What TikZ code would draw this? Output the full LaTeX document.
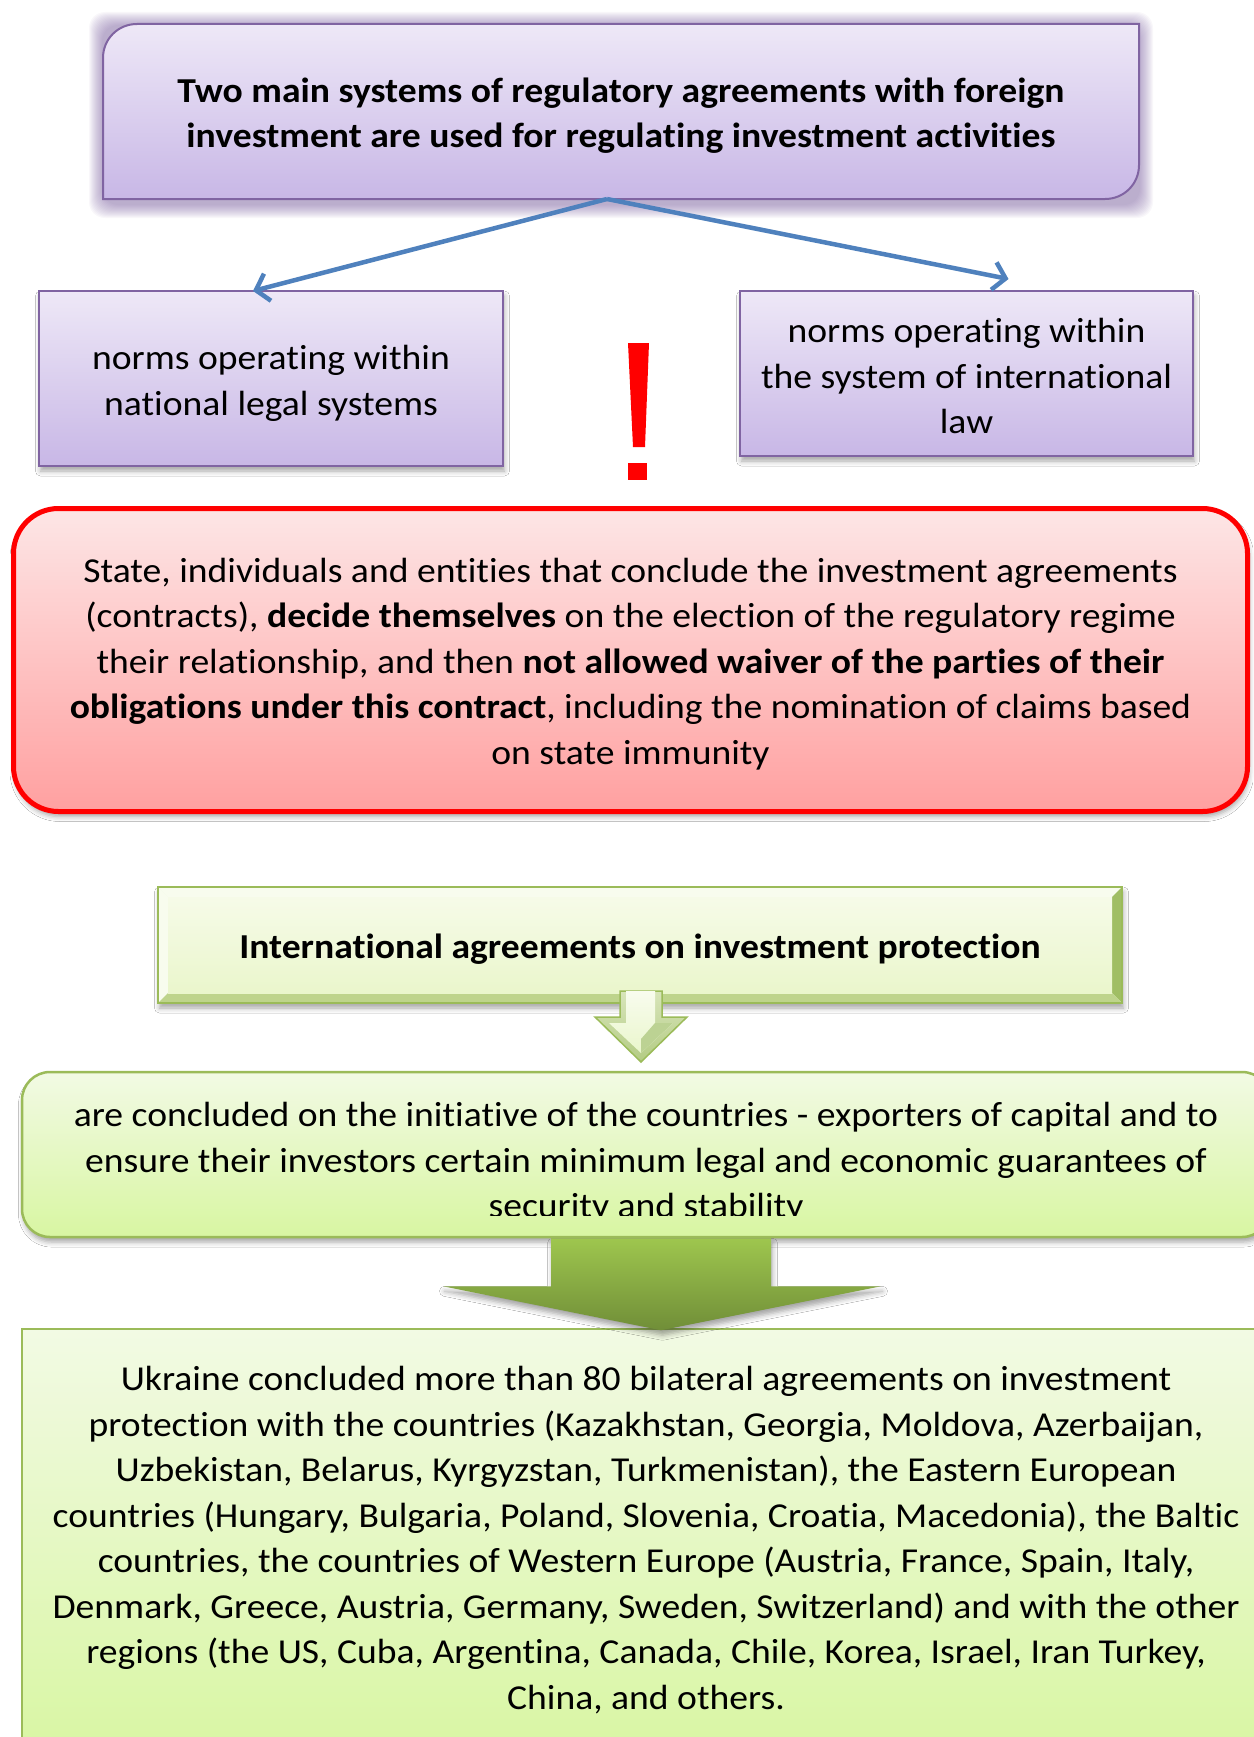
\documentclass[tikz,border=0pt]{standalone}
\usepackage{fontspec}
\setmainfont{Carlito}[Ligatures=NoCommon, FakeStretch=1.075]
\usetikzlibrary{calc,arrows.meta,shadows.blur}

\definecolor{lavtop}{RGB}{238,232,247}
\definecolor{lavbot}{RGB}{200,183,230}
\definecolor{lavedge}{RGB}{128,100,162}
\definecolor{glowc}{RGB}{120,90,160}
\definecolor{linkblue}{RGB}{79,129,189}
\definecolor{redtop}{RGB}{253,230,230}
\definecolor{redbot}{RGB}{255,160,160}
\definecolor{alarm}{RGB}{255,0,0}
\definecolor{grtop}{RGB}{242,250,228}
\definecolor{grbot}{RGB}{216,246,162}
\definecolor{gredge}{RGB}{155,187,89}
\definecolor{bevlight}{RGB}{248,252,238}
\definecolor{bevmid}{RGB}{190,212,140}
\definecolor{bevdark}{RGB}{160,190,100}
\definecolor{paneltop}{RGB}{246,251,232}
\definecolor{panelbot}{RGB}{234,246,204}
\definecolor{arrtop}{RGB}{158,198,78}
\definecolor{arrbot}{RGB}{112,142,56}

\tikzset{
  body/.style={font=\fontsize{35}{45.5}\selectfont, align=center, inner sep=0pt},
  bodyb/.style={body, font=\fontsize{35}{45.5}\selectfont\bfseries},
  dropsh/.style={blur shadow={shadow xshift=1.5pt, shadow yshift=-5pt,
      shadow blur radius=5pt, shadow opacity=35}},
  lavbox/.style={draw=lavedge, line width=2pt, top color=lavtop, bottom color=lavbot},
  link/.style={draw=linkblue, line width=4.5pt,
      -{Straight Barb[length=12pt,width=28pt,line width=4.5pt]}},
  greenbox/.style={draw=gredge, line width=2.5pt, top color=grtop, bottom color=grbot},
  frame/.style={inner sep=0pt, outer sep=0pt},
}

\begin{document}
\begin{tikzpicture}[x=1pt,y=-1pt]
\useasboundingbox (0,0) rectangle (1253,1737);
\fill[white] (0,0) rectangle (1253,1737);

% ---- heading box -------------------------------------------------------
\node[frame, minimum width=1036pt, minimum height=175pt] (top) at (621,111.5) {};
\foreach \g in {1,...,14}
  \fill[glowc, opacity=0.045, rounded corners=16pt]
    ($(top.north west)+(-\g,-\g+2)$) rectangle ($(top.south east)+(\g,\g+5)$);
\path[lavbox] (top.south west) -- ($(top.north west)+(0,34)$)
    .. controls ($(top.north west)+(0,15)$) and ($(top.north west)+(15,0)$)
    .. ($(top.north west)+(34,0)$)
    -- (top.north east) -- ($(top.south east)+(0,-34)$)
    .. controls ($(top.south east)+(0,-15)$) and ($(top.south east)+(-15,0)$)
    .. ($(top.south east)+(-34,0)$) -- cycle;
\node[bodyb] (toptxt) at ([yshift=-4pt]top.center)
  {Two main systems of regulatory agreements with foreign\\
   investment are used for regulating investment activities};

% ---- two kinds of norms ------------------------------------------------
\node[lavbox, frame, dropsh, minimum width=464pt, minimum height=175pt] (lbox) at (271,378.5) {};
\node[body] (ltxt) at ([yshift=-5pt]lbox.center)
  {norms operating within\\national legal systems};
\node[lavbox, frame, dropsh, minimum width=453pt, minimum height=165pt] (rbox) at (966.5,373.5) {};
\node[body] (rtxt) at ([yshift=-2.5pt]rbox.center)
  {norms operating within\\the system of international\\law};

\draw[link] ([xshift=-14pt]top.south) -- ([xshift=-18pt]lbox.north);
\draw[link] ([xshift=-14pt]top.south) -- ([xshift=42pt,yshift=12pt]rbox.north);

% exclamation mark
\fill[alarm] (628,343) -- (649,343) -- (645,447) -- (633,447) -- cycle;
\fill[alarm] (628,463) rectangle (647,480);

% ---- parties' choice ---------------------------------------------------
\node[frame, dropsh, draw=alarm, line width=5pt, rounded corners=45pt,
      top color=redtop, bottom color=redbot,
      minimum width=1234pt, minimum height=303pt] (warn) at (630.5,660) {};
\node[body] (warntxt) at ([yshift=-4pt]warn.center)
  {State, individuals and entities that conclude the investment agreements\\
   (contracts), \textbf{decide themselves} on the election of the regulatory regime\\
   their relationship, and then \textbf{not allowed waiver of the parties of their}\\
   \textbf{obligations under this contract}, including the nomination of claims based\\
   on state immunity};

% ---- international agreements (bevelled panel) -------------------------
\node[frame, dropsh, fill=grtop, minimum width=964pt, minimum height=116pt] (hdr) at (640,945) {};
\fill[bevlight] (hdr.north west) -- (hdr.north east) -- ($(hdr.north east)+(-10,10)$)
    -- ($(hdr.north west)+(10,10)$) -- cycle;
\fill[bevlight] (hdr.north west) -- ($(hdr.north west)+(10,10)$)
    -- ($(hdr.south west)+(10,-10)$) -- (hdr.south west) -- cycle;
\fill[bevdark] (hdr.north east) -- ($(hdr.north east)+(-10,10)$)
    -- ($(hdr.south east)+(-10,-10)$) -- (hdr.south east) -- cycle;
\fill[bevmid] (hdr.south west) -- ($(hdr.south west)+(10,-10)$)
    -- ($(hdr.south east)+(-10,-10)$) -- (hdr.south east) -- cycle;
\path[top color=paneltop, bottom color=panelbot]
    ($(hdr.north west)+(10,10)$) rectangle ($(hdr.south east)+(-10,-10)$);
\draw[gredge, line width=2pt] (hdr.north west) rectangle (hdr.south east);
\node[bodyb] (hdrtxt) at ([yshift=-4pt]hdr.center)
  {International agreements on investment protection};

% small bevelled arrow below the panel
\path[draw=gredge, line width=1.5pt, top color=bevmid!60!white, bottom color=bevdark!80!white]
  ($(hdr.south)+(-20,-12)$) -- ($(hdr.south)+(22,-12)$) -- ($(hdr.south)+(22,14)$)
  -- ($(hdr.south)+(47,14)$) -- ($(hdr.south)+(1,59)$) -- ($(hdr.south)+(-45,14)$)
  -- ($(hdr.south)+(-20,14)$) -- cycle;
\path[top color=bevlight, bottom color=panelbot]
  ($(hdr.south)+(-14,-12)$) -- ($(hdr.south)+(15,-12)$) -- ($(hdr.south)+(15,20)$)
  -- ($(hdr.south)+(33,20)$) -- ($(hdr.south)+(1,50)$) -- ($(hdr.south)+(-31,20)$)
  -- ($(hdr.south)+(-14,20)$) -- cycle;
\fill[bevdark!70!white] ($(hdr.south)+(1,50)$) -- ($(hdr.south)+(33,20)$)
  -- ($(hdr.south)+(15,20)$) -- ($(hdr.south)+(1,36)$) -- cycle;

% ---- purpose of the agreements -----------------------------------------
\node[greenbox, dropsh, rounded corners=28pt, minimum width=1248pt, minimum height=165pt]
  (box2) at (646,1154.5) {};
\begin{scope}
  \clip (0,1074) rectangle (1253,1215);
  \node[body] (box2txt) at (646,1163)
    {are concluded on the initiative of the countries - exporters of capital and to\\
     ensure their investors certain minimum legal and economic guarantees of\\
     security and stability};
\end{scope}

% ---- Ukraine's bilateral agreements ------------------------------------
\node[greenbox, minimum width=1248pt, minimum height=431pt] (bot) at (646,1544.5) {};
\node[body] (bottxt) at (646,1540)
  {Ukraine concluded more than 80 bilateral agreements on investment\\
   protection with the countries (Kazakhstan, Georgia, Moldova, Azerbaijan,\\
   Uzbekistan, Belarus, Kyrgyzstan, Turkmenistan), the Eastern European\\
   countries (Hungary, Bulgaria, Poland, Slovenia, Croatia, Macedonia), the Baltic\\
   countries, the countries of Western Europe (Austria, France, Spain, Italy,\\
   Denmark, Greece, Austria, Germany, Sweden, Switzerland) and with the other\\
   regions (the US, Cuba, Argentina, Canada, Chile, Korea, Israel, Iran Turkey,\\
   China, and others.};

% big block arrow between the two green boxes
\path[dropsh, top color=arrtop, bottom color=arrbot]
  ($(box2.south)+(-95,0)$) -- ($(box2.south)+(125,0)$) -- ($(box2.south)+(125,48)$)
  -- ($(box2.south)+(235,48)$) -- ($(box2.south)+(15,92)$) -- ($(box2.south)+(-203,48)$)
  -- ($(box2.south)+(-95,48)$) -- cycle;
\end{tikzpicture}
\end{document}
